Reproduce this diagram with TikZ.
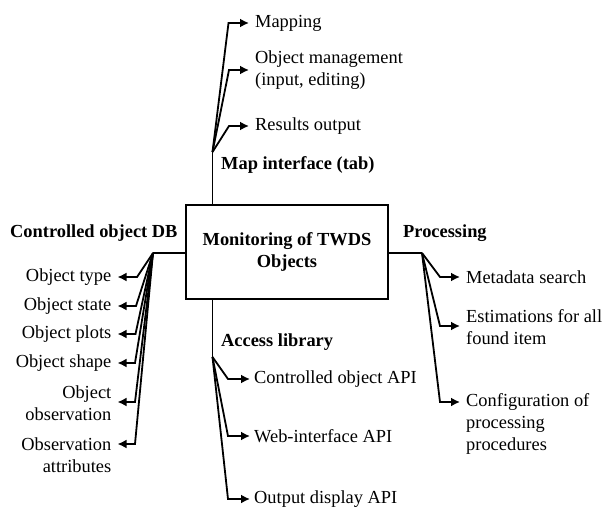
\documentclass[tikz,border=0pt]{standalone}
\usepackage{fontspec}
\setmainfont{Liberation Serif}
\usetikzlibrary{arrows.meta}
\begin{document}
\begin{tikzpicture}[x=1pt,y=-1pt,
  every node/.style={font=\fontsize{18.4}{22}\selectfont},
  line/.style={line width=1.8pt},
  arr/.style={line width=1.8pt,-{Latex[length=9pt,width=9pt]}},
  itemr/.style={anchor=west,align=left,inner xsep=6pt,inner ysep=1pt},
  iteml/.style={anchor=east,align=right,inner xsep=6pt,inner ysep=1pt},
  grp/.style={font=\fontsize{18.4}{22}\selectfont\bfseries,inner sep=0pt}]
\useasboundingbox (0,0) rectangle (606,514);
% main box
\node[draw,line width=1.8pt,minimum width=202pt,minimum height=94pt,align=center,
  font=\fontsize{18.4}{22}\selectfont\bfseries] (main) at (287,252) {Monitoring of TWDS\\Objects};
% group labels
\node[grp,anchor=west] (gmap) at (221,165) {Map interface (tab)};
\node[grp,anchor=west] (gacc) at (221,342) {Access library};
\node[grp,anchor=west] (gdb) at (10,233) {Controlled object DB};
\node[grp,anchor=west] (gproc) at (403,233) {Processing};
% branch points
\coordinate (mb) at (212.5,152);
\coordinate (ab) at (212.5,357);
\coordinate (lb) at (153,253);
\coordinate (rb) at (422,253);
\draw[line] (main.north -| mb) -- (mb);
\draw[line] (main.south -| ab) -- (ab);
\draw[line] (main.west |- lb) -- (lb);
\draw[line] (main.east |- rb) -- (rb);
% top items
\node[itemr] (m1) at (249,23) {Mapping};
\node[itemr] (m2) at (249,70) {Object management\\(input, editing)};
\node[itemr] (m3) at (249,126) {Results output};
\coordinate (mc1) at (228.5,23);
\coordinate (mc2) at (229,70);
\coordinate (mc3) at (229,126);
\draw[arr] (mb) -- (mc1) -- (m1.west);
\draw[arr] (mb) -- (mc2) -- (m2.west);
\draw[arr] (mb) -- (mc3) -- (m3.west);
% bottom items
\node[itemr,inner xsep=4pt] (a1) at (250,379) {Controlled object API};
\node[itemr,inner xsep=4pt] (a2) at (250,436) {Web-interface API};
\node[itemr,inner xsep=4pt] (a3) at (250,499) {Output display API};
\coordinate (ac1) at (228,379);
\coordinate (ac2) at (228,436);
\coordinate (ac3) at (228,499);
\draw[arr] (ab) -- (ac1) -- (a1.west);
\draw[arr] (ab) -- (ac2) -- (a2.west);
\draw[arr] (ab) -- (ac3) -- (a3.west);
% left items
\node[iteml] (l1) at (117.5,277) {Object type};
\node[iteml] (l2) at (117.5,306) {Object state};
\node[iteml] (l3) at (117.5,334) {Object plots};
\node[iteml] (l4) at (117.5,363) {Object shape};
\node[iteml] (l5) at (117.5,403) {Object\\observation};
\node[iteml] (l6) at (117.5,455.5) {Observation\\attributes};
\coordinate (lc1) at (137,277);
\coordinate (lc2) at (136,306);
\coordinate (lc3) at (135.5,334);
\coordinate (lc4) at (135,363);
\coordinate (lc5) at (135,402);
\coordinate (lc6) at (135,444);
\draw[arr] (lb) -- (lc1) -- (l1.east);
\draw[arr] (lb) -- (lc2) -- (l2.east);
\draw[arr] (lb) -- (lc3) -- (l3.east);
\draw[arr] (lb) -- (lc4) -- (l4.east);
\draw[arr] (lb) -- (lc5) -- (lc5 -| l5.east);
\draw[arr] (lb) -- (lc6) -- (lc6 -| l6.east);
% right items
\node[itemr] (r1) at (460,277) {Metadata search};
\node[itemr] (r2) at (460,327.5) {Estimations for all\\found item};
\node[itemr] (r3) at (460,424) {Configuration of\\processing\\procedures};
\coordinate (rc1) at (440,277);
\coordinate (rc2) at (440,326);
\coordinate (rc3) at (440,402);
\draw[arr] (rb) -- (rc1) -- (r1.west);
\draw[arr] (rb) -- (rc2) -- (rc2 -| r2.west);
\draw[arr] (rb) -- (rc3) -- (rc3 -| r3.west);
\end{tikzpicture}
\end{document}
